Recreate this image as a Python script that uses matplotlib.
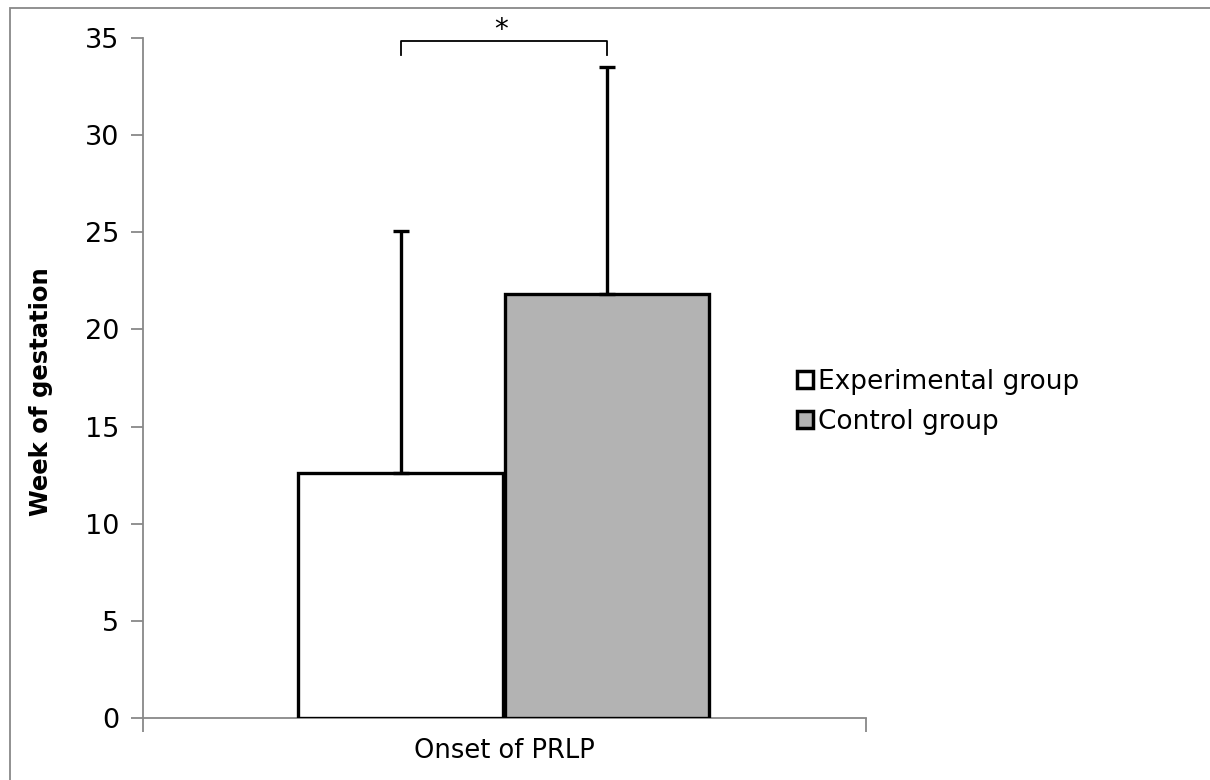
import matplotlib
matplotlib.use("Agg")
import matplotlib.pyplot as plt
from matplotlib.patches import Rectangle

# valores
grupos = ["Experimental group", "Control group"]
medias = [12.63, 21.82]
desvios = [12.42, 11.7]
cores = ["white", "#b3b3b3"]
categoria = "Onset of PRLP"
yticks = [0, 5, 10, 15, 20, 25, 30, 35]

fig = plt.figure(figsize=(12.1, 7.8), dpi=100)
ax = fig.add_axes([143 / 1210, 62 / 780, 723 / 1210, 680 / 780])

# barras
largura = 0.283
posicoes = [-0.1435, 0.1415]
for pos, m, d, c, g in zip(posicoes, medias, desvios, cores, grupos):
    ax.bar(pos, m, width=largura, color=c, edgecolor="black", linewidth=2.4, label=g, zorder=3)
    ax.errorbar(pos, m, yerr=[[0], [d]], fmt="none", ecolor="black", elinewidth=2.4,
                capsize=6, capthick=2.4, zorder=4)

# colchete de significancia
ax.plot([posicoes[0], posicoes[0], posicoes[1], posicoes[1]], [34.1, 34.85, 34.85, 34.1],
        color="black", linewidth=1.3, clip_on=False, zorder=5)
ax.text(-0.005, 35.4, "*", ha="center", va="center", fontsize=20, clip_on=False)

ax.set_xlim(-0.5, 0.5)
ax.set_ylim(0, 35)
ax.set_yticks(yticks)
ax.set_xticks([-0.5, 0.5])
ax.set_xticklabels(["", ""])
ax.tick_params(axis="x", length=10, width=1.3, color="#888888", direction="out")
ax.tick_params(axis="y", length=9, width=1.3, color="#888888", direction="out", labelsize=19.5, pad=8)
ax.text(0.5, -0.03, categoria, transform=ax.transAxes, fontsize=18.5, ha="center", va="top")

for lado in ["top", "right"]:
    ax.spines[lado].set_visible(False)
for lado in ["left", "bottom"]:
    ax.spines[lado].set_color("#888888")
    ax.spines[lado].set_linewidth(1.3)

ax.set_ylabel("Week of gestation", fontsize=17.5, fontweight="bold")
ax.yaxis.set_label_coords(-0.125, 0.48)

leg = ax.legend(loc="center left", bbox_to_anchor=(0.905, 0.465), frameon=False, fontsize=19,
                borderpad=0, borderaxespad=0,
                handlelength=0.6, handleheight=0.6, handletextpad=0.2, labelspacing=0.55)
for h in leg.legend_handles:
    h.set_linewidth(2.5)

# moldura externa
fig.patches.append(Rectangle((10 / 1210, -0.1), 1.5, (772 / 780) + 0.1, transform=fig.transFigure,
                             fill=False, edgecolor="#888888", linewidth=1.3))

fig.savefig("out.png", dpi=100)
